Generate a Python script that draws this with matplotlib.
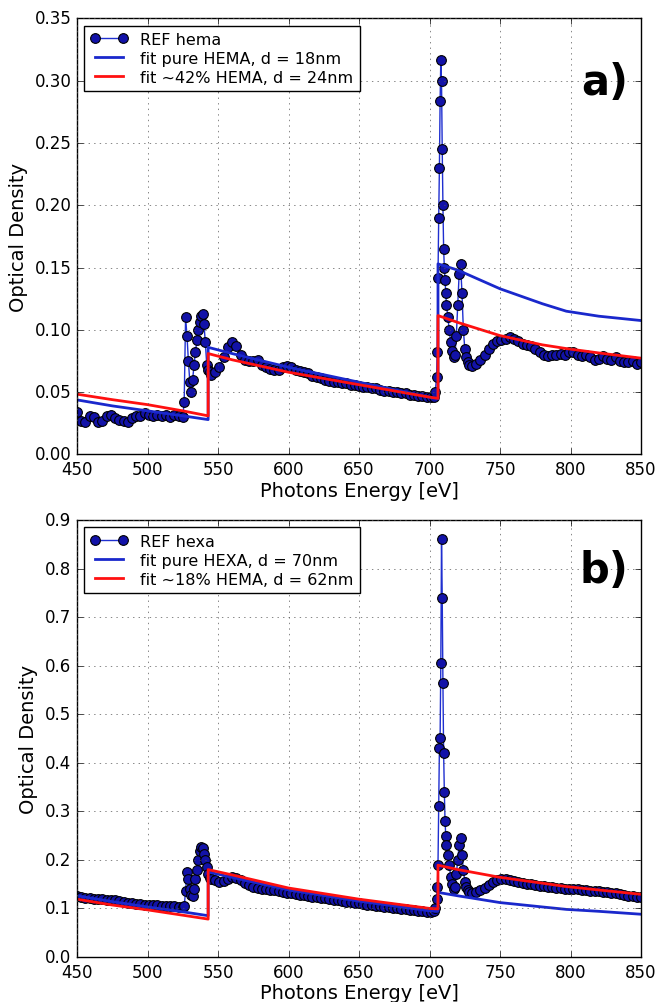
import matplotlib
matplotlib.use('Agg')
import matplotlib.pyplot as plt

plt.style.use('classic')
plt.rcParams['font.family'] = ['DejaVu Sans']
plt.rcParams['figure.facecolor'] = 'white'
plt.rcParams['savefig.facecolor'] = 'white'

# measured energies (eV), shared by both reference spectra
energy = [450, 453, 456, 459, 462, 465, 468, 471, 474, 477, 480, 483, 486, 489, 492,
          495, 498, 501, 504, 507, 510, 513, 516, 519, 522, 525,
          526, 527, 528, 529, 530, 531, 532, 533, 534, 535, 536, 537, 538, 539, 540,
          541, 542, 543, 544, 545,
          548, 551, 554, 557, 560, 563, 566, 569, 572, 575, 578, 581, 584, 587, 590,
          593, 596, 599, 602, 605, 608, 611, 614, 617, 620, 623, 626, 629, 632, 635,
          638, 641, 644, 647, 650, 653, 656, 659, 662, 665, 668, 671, 674, 677, 680,
          683, 686, 689, 692, 695, 698, 701,
          703, 704, 705, 705.5, 706, 706.5, 707, 707.5, 708, 708.5, 709, 709.5, 710,
          710.5, 711, 711.5, 712, 713, 714, 715, 716, 717, 718, 719, 720, 721, 722,
          723, 724, 725, 726, 727, 728, 730,
          733, 736, 739, 742, 745, 748, 751, 754, 757, 760, 763, 766, 769, 772, 775,
          778, 781, 784, 787, 790, 793, 796, 799, 802, 805, 808, 811, 814, 817, 820,
          823, 826, 829, 832, 835, 838, 841, 844, 847, 850]

od_hema = [0.034, 0.027, 0.026, 0.031, 0.030, 0.026, 0.027, 0.031, 0.032, 0.029, 0.028,
           0.027, 0.026, 0.029, 0.031, 0.031, 0.033, 0.032, 0.031, 0.032, 0.031, 0.032,
           0.030, 0.032, 0.031, 0.030,
           0.042, 0.110, 0.095, 0.075, 0.058, 0.050, 0.060, 0.072, 0.082, 0.092, 0.100,
           0.106, 0.111, 0.113, 0.105, 0.090, 0.072, 0.068, 0.066, 0.064,
           0.066, 0.070, 0.078, 0.086, 0.090, 0.087, 0.080, 0.076, 0.075, 0.075, 0.076,
           0.072, 0.070, 0.069, 0.068, 0.068, 0.070, 0.071, 0.070, 0.068, 0.067, 0.066,
           0.065, 0.063, 0.062, 0.061, 0.060, 0.059, 0.058, 0.058, 0.057, 0.057, 0.056,
           0.056, 0.055, 0.054, 0.054, 0.053, 0.053, 0.052, 0.051, 0.051, 0.050, 0.050,
           0.049, 0.049, 0.048, 0.048, 0.047, 0.047, 0.046, 0.046,
           0.046, 0.050, 0.062, 0.082, 0.142, 0.190, 0.230, 0.284, 0.317, 0.300, 0.245,
           0.200, 0.165, 0.150, 0.140, 0.130, 0.120, 0.110, 0.100, 0.090, 0.083, 0.078,
           0.080, 0.095, 0.120, 0.145, 0.153, 0.130, 0.100, 0.085, 0.078, 0.074, 0.072,
           0.071,
           0.073, 0.076, 0.080, 0.085, 0.089, 0.091, 0.092, 0.093, 0.094, 0.093, 0.091,
           0.089, 0.088, 0.087, 0.085, 0.082, 0.080, 0.079, 0.080, 0.080, 0.081, 0.080,
           0.082, 0.082, 0.080, 0.079, 0.080, 0.078, 0.076, 0.077, 0.079, 0.077, 0.076,
           0.078, 0.075, 0.074, 0.074, 0.075, 0.073, 0.074]

od_hexa = [0.125, 0.123, 0.122, 0.121, 0.120, 0.120, 0.119, 0.118, 0.117, 0.117, 0.116,
           0.114, 0.112, 0.111, 0.110, 0.109, 0.108, 0.107, 0.107, 0.106, 0.105, 0.105,
           0.104, 0.104, 0.103, 0.102,
           0.104, 0.136, 0.175, 0.160, 0.140, 0.128, 0.126, 0.140, 0.160, 0.180, 0.200,
           0.218, 0.226, 0.224, 0.212, 0.200, 0.185, 0.170, 0.162, 0.160,
           0.158, 0.155, 0.156, 0.160, 0.165, 0.163, 0.158, 0.152, 0.148, 0.145, 0.142,
           0.140, 0.139, 0.138, 0.137, 0.135, 0.134, 0.132, 0.131, 0.130, 0.128, 0.127,
           0.126, 0.124, 0.123, 0.122, 0.121, 0.120, 0.118, 0.117, 0.116, 0.114, 0.113,
           0.112, 0.111, 0.110, 0.108, 0.107, 0.105, 0.104, 0.103, 0.102, 0.101, 0.100,
           0.099, 0.098, 0.097, 0.096, 0.095, 0.094, 0.093, 0.093,
           0.094, 0.100, 0.120, 0.144, 0.190, 0.310, 0.430, 0.450, 0.605, 0.860, 0.740,
           0.565, 0.420, 0.340, 0.280, 0.250, 0.230, 0.210, 0.190, 0.165, 0.150, 0.140,
           0.145, 0.170, 0.200, 0.230, 0.246, 0.210, 0.180, 0.155, 0.145, 0.138, 0.134,
           0.132,
           0.134, 0.138, 0.143, 0.149, 0.154, 0.158, 0.160, 0.160, 0.159, 0.157, 0.155,
           0.153, 0.151, 0.150, 0.149, 0.147, 0.146, 0.145, 0.144, 0.143, 0.142, 0.141,
           0.140, 0.140, 0.139, 0.138, 0.137, 0.136, 0.136, 0.135, 0.134, 0.133, 0.132,
           0.131, 0.130, 0.128, 0.126, 0.125, 0.124, 0.123]

# fitted curves (knots)
fit_e = [450, 475, 500, 525, 543, 543, 560, 600, 650, 700, 706, 706, 720, 750, 780, 797, 820, 850]
fit_a_pure = [0.0438, 0.0390, 0.0350, 0.0310, 0.0280, 0.0860, 0.0810, 0.0700, 0.0580, 0.0460, 0.0450,
              0.1530, 0.1480, 0.1330, 0.1210, 0.1150, 0.1110, 0.1075]
fit_a_mix = [0.0484, 0.0440, 0.0400, 0.0350, 0.0310, 0.0810, 0.0760, 0.0660, 0.0560, 0.0460, 0.0450,
             0.1115, 0.1060, 0.0954, 0.0880, 0.0850, 0.0815, 0.0773]
fit_b_pure = [0.1260, 0.1140, 0.1030, 0.0930, 0.0850, 0.1750, 0.1640, 0.1380, 0.1150, 0.0950, 0.0940,
              0.1330, 0.1260, 0.1120, 0.1030, 0.0980, 0.0940, 0.0880]
fit_b_mix = [0.1190, 0.1070, 0.0970, 0.0860, 0.0780, 0.1800, 0.1690, 0.1420, 0.1190, 0.1000, 0.0990,
             0.1890, 0.1800, 0.1640, 0.1520, 0.1450, 0.1380, 0.1290]

panels = [
    (od_hema, fit_a_pure, fit_a_mix, 'REF hema', 'fit pure HEMA, d = 18nm',
     'fit ~42% HEMA, d = 24nm', 0.35, 'a)', 0.855),
    (od_hexa, fit_b_pure, fit_b_mix, 'REF hexa', 'fit pure HEXA, d = 70nm',
     'fit ~18% HEMA, d = 62nm', 0.9, 'b)', 0.885),
]

fig = plt.figure(figsize=(6.56, 10.03), dpi=100)
rects = [[0.1174, 0.5459, 0.8598, 0.4347], [0.1174, 0.0449, 0.8598, 0.4357]]

for rect, (od, pure, mix, lab_ref, lab_pure, lab_mix, ytop, tag, ty) in zip(rects, panels):
    ax = fig.add_axes(rect)
    ax.plot(energy, od, 'o-', color='#1f2fd0', markerfacecolor='#1212a8',
            markeredgecolor='black', markeredgewidth=0.8, markersize=7,
            linewidth=1, label=lab_ref)
    ax.plot(fit_e, pure, '-', color='#1a28cc', linewidth=2, label=lab_pure)
    ax.plot(fit_e, mix, '-', color='#ff1010', linewidth=2, label=lab_mix)
    ax.set_xlim(450, 850)
    ax.set_ylim(0, ytop)
    ax.grid(True, linestyle=':', color='#555555')
    ax.tick_params(labelsize=12, direction='in')
    ax.set_xlabel('Photons Energy [eV]', fontsize=14, labelpad=2)
    ax.set_ylabel('Optical Density', fontsize=14)
    ax.legend(loc='upper left', fontsize=11.5, numpoints=2, handlelength=2.3,
              borderaxespad=0.45, labelspacing=0.25, fancybox=False)
    ax.text(0.935, ty, tag, transform=ax.transAxes, fontsize=30,
            fontweight='bold', ha='center', va='center')

plt.savefig('out.png', dpi=100)
